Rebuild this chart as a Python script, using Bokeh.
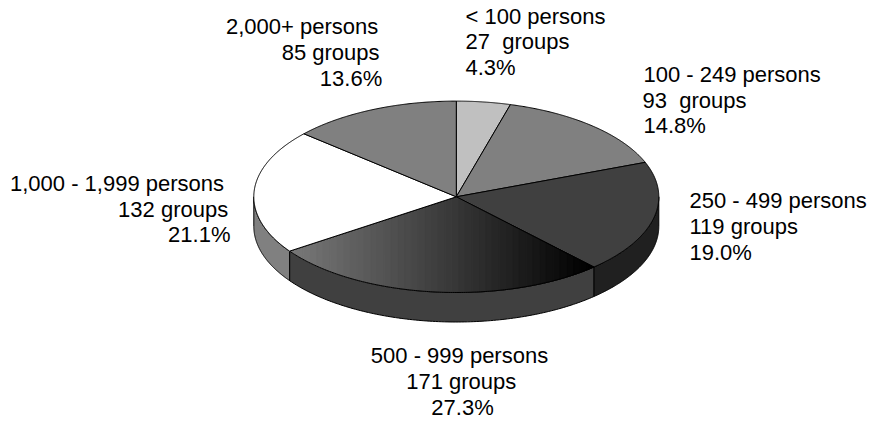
import numpy as np
from bokeh.plotting import figure
from bokeh.models import Range1d
from bokeh.core.properties import value
from bokeh.embed import file_html
from bokeh.resources import INLINE

categories = ["< 100 persons", "100 - 249 persons", "250 - 499 persons",
              "500 - 999 persons", "1,000 - 1,999 persons", "2,000+ persons"]
groups = [27, 93, 119, 171, 132, 85]
group_labels = ["27\u00a0 groups", "93\u00a0 groups", "119 groups", "171 groups", "132 groups", "85 groups"]
percents = ["4.3%", "14.8%", "19.0%", "27.3%", "21.1%", "13.6%"]
top_colors = ["#c0c0c0", "#808080", "#404040", None, "#ffffff", "#808080"]
side_colors = ["#c0c0c0", "#808080", "#202020", "#404040", "#808080", "#808080"]

# layout (screen pixels)
CX, CY, RX, RY, DEPTH = 455.8, 196.3, 202.5, 95.7, 29.5
label_x = [[465, 465, 465], [643, 642, 643], [689, 689, 689],
           [459, 460.7, 462], [223.5, 227.7, 230], [377.7, 379, 381.7]]
label_y = [[16, 41, 67], [74, 100, 125], [200, 226, 252],
           [355, 381, 407], [183, 209, 234], [26, 52, 78]]
label_align = ["left", "left", "left", "center", "right", "right"]

p = figure(width=871, height=423, output_backend="svg", toolbar_location=None,
           x_range=Range1d(0, 871), y_range=Range1d(423, 0), min_border=0)
p.axis.visible = False
p.grid.visible = False
p.outline_line_color = None
p.background_fill_color = "#ffffff"
p.border_fill_color = "#ffffff"

def ex(t):
    return CX + RX * np.sin(t)
def ey(t):
    return CY - RY * np.cos(t)

edges = np.concatenate([[0], np.cumsum(groups)]) / sum(groups) * 2 * np.pi

# side walls
for i, c in enumerate(side_colors):
    a, b = max(edges[i], np.pi / 2), min(edges[i + 1], 3 * np.pi / 2)
    if b <= a:
        continue
    t = np.linspace(a, b, 120)
    xs = np.concatenate([ex(t), ex(t[::-1])])
    ys = np.concatenate([ey(t), ey(t[::-1]) + DEPTH])
    p.patch(xs, ys, fill_color=c, line_color="#000000", line_width=1)

# top faces
for i, c in enumerate(top_colors):
    t = np.linspace(edges[i], edges[i + 1], 160)
    xs = np.concatenate([[CX], ex(t)])
    ys = np.concatenate([[CY], ey(t)])
    if c is not None:
        p.patch(xs, ys, fill_color=c, line_color="#000000", line_width=1)
        continue
    # banded grey gradient of the largest slice
    xl, xr = ex(edges[i + 1]), ex(edges[i])
    yl, yr = ey(edges[i + 1]), ey(edges[i])
    n = 45
    bx = np.linspace(xl, xr, n + 1)
    for k in range(n):
        sx = np.linspace(bx[k], bx[k + 1], 8)
        upper = np.where(sx <= CX, CY + (sx - CX) / (xl - CX) * (yl - CY),
                         CY + (sx - CX) / (xr - CX) * (yr - CY))
        lower = CY + RY * np.sqrt(np.clip(1 - ((sx - CX) / RX) ** 2, 0, 1))
        g = int(round(0x78 * (1 - k / (n - 1))))
        col = "#%02x%02x%02x" % (g, g, g)
        p.patch(np.concatenate([sx, sx[::-1]]), np.concatenate([upper, lower[::-1]]),
                fill_color=col, line_color=col, line_width=1)
    p.patch(xs, ys, fill_color=None, line_color="#000000", line_width=1)

# labels
for i in range(len(categories)):
    for line, x, y in zip([categories[i], group_labels[i], percents[i]], label_x[i], label_y[i]):
        p.text([x], [y], text=[line], text_font=value("Liberation Sans"),
               text_font_size="22px", text_color="#000000",
               text_align=label_align[i], text_baseline="middle")

open("out.html", "w").write(file_html(p, INLINE))
